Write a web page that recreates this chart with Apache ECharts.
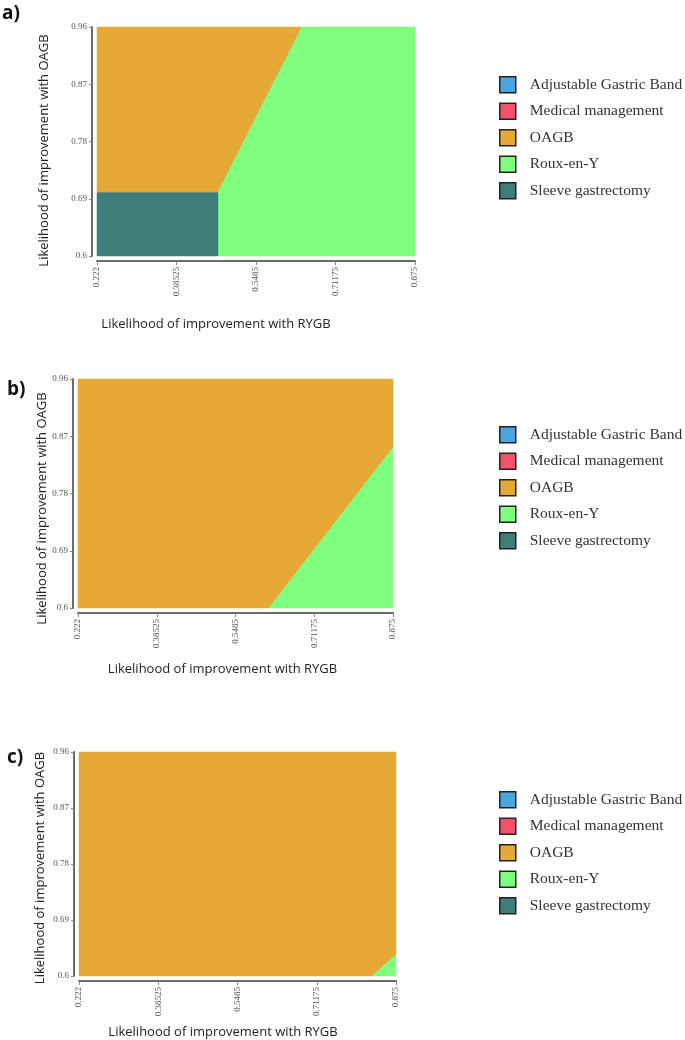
<!DOCTYPE html>
<html>
<head>
<meta charset="utf-8">
<script src="https://cdn.jsdelivr.net/npm/echarts@6/dist/echarts.min.js"></script>
<style>
  html, body { margin: 0; padding: 0; background: #fff; }
  #main { width: 685px; height: 1040px; }
</style>
</head>
<body>
<div id="main"></div>
<script>
// treatments shown in every legend
var treatments = ["Adjustable Gastric Band", "Medical management", "OAGB", "Roux-en-Y", "Sleeve gastrectomy"];
var colors = ["#4ba6e0", "#f25269", "#e6a936", "#80ff7f", "#3e7e7b"];

var xTicks = [0.222, 0.38525, 0.5485, 0.71175, 0.875];
var yTicks = [0.6, 0.69, 0.78, 0.87, 0.96];

// region boundaries (RYGB, OAGB)
var panelA_sleeve = [[0.222, 0.6], [0.4705, 0.6], [0.4705, 0.70], [0.222, 0.70]];
var panelA_roux = [[0.4705, 0.6], [0.875, 0.6], [0.875, 0.96], [0.643, 0.96], [0.4705, 0.70]];
var panelA_oagb = [[0.222, 0.70], [0.4705, 0.70], [0.643, 0.96], [0.222, 0.96]];

var panelB_oagb = [[0.222, 0.6], [0.618, 0.6], [0.875, 0.852], [0.875, 0.96], [0.222, 0.96]];
var panelB_roux = [[0.618, 0.6], [0.875, 0.6], [0.875, 0.852]];

var panelC_oagb = [[0.222, 0.6], [0.826, 0.6], [0.875, 0.634], [0.875, 0.96], [0.222, 0.96]];
var panelC_roux = [[0.826, 0.6], [0.875, 0.6], [0.875, 0.634]];

var panels = [
  { label: "a)", regions: { "OAGB": panelA_oagb, "Roux-en-Y": panelA_roux, "Sleeve gastrectomy": panelA_sleeve } },
  { label: "b)", regions: { "OAGB": panelB_oagb, "Roux-en-Y": panelB_roux } },
  { label: "c)", regions: { "OAGB": panelC_oagb, "Roux-en-Y": panelC_roux } }
];

// layout per panel
var grids = [
  { left: 97, top: 27, width: 318, height: 229 },
  { left: 78, top: 379, width: 315, height: 229 },
  { left: 79, top: 752, width: 317, height: 230 }
];
var legendTops = [76, 426, 791];
var xNameGap = [57, 50, 45];
var xNameShift = [80, 26, 29];
var yNameGap = [41, 23, 27];
var yNameShift = [18, 30, 8];
var labelTops = [4, 380, 748];
var labelLefts = [2, 7, 7];

var myChart = echarts.init(document.getElementById("main"));

function fmt(v) {
  return String(Math.round(v * 100000) / 100000);
}

var xAxes = [], yAxes = [], series = [], legends = [], graphics = [];

panels.forEach(function (p, i) {
  xAxes.push({
    type: "value", gridIndex: i, min: 0.222, max: 0.875, offset: 5,
    name: "Likelihood of improvement with RYGB",
    nameLocation: "middle", nameGap: xNameGap[i],
    nameTextStyle: { fontFamily: "Open Sans", fontSize: 13, color: "#222", padding: [0, xNameShift[i], 0, 0] },
    axisLine: { lineStyle: { color: "#6a6a6a", width: 2 } },
    axisTick: { show: true, length: 4, lineStyle: { color: "#888" }, customValues: xTicks },
    axisLabel: { rotate: 90, fontFamily: "Liberation Serif", fontSize: 9, color: "#555", margin: 6, customValues: xTicks, formatter: fmt },
    splitLine: { show: false }
  });
  yAxes.push({
    type: "value", gridIndex: i, min: 0.6, max: 0.96, offset: 5,
    name: "Likelihood of improvement with OAGB",
    nameLocation: "middle", nameGap: yNameGap[i],
    nameTextStyle: { fontFamily: "Open Sans", fontSize: 13, color: "#222", padding: [0, yNameShift[i], 0, 0] },
    axisLine: { lineStyle: { color: "#6a6a6a", width: 2 } },
    axisTick: { show: true, length: 3, lineStyle: { color: "#888" }, customValues: yTicks },
    axisLabel: { fontFamily: "Liberation Serif", fontSize: 9, color: "#555", margin: 5, customValues: yTicks, formatter: fmt },
    splitLine: { show: false }
  });

  treatments.forEach(function (t, k) {
    var verts = p.regions[t] || [];
    series.push({
      type: "custom", name: t, xAxisIndex: i, yAxisIndex: i,
      itemStyle: { color: colors[k] },
      data: verts,
      silent: true,
      renderItem: function (params, api) {
        if (params.dataIndex !== 0) return;
        var pts = verts.map(function (v) { return api.coord(v); });
        return { type: "polygon", shape: { points: pts }, style: { fill: colors[k], stroke: colors[k], lineWidth: 0.5 } };
      }
    });
  });

  legends.push({
    data: treatments, orient: "vertical", left: 499, top: legendTops[i], padding: 0,
    icon: "rect", itemWidth: 16, itemHeight: 16, itemGap: 9,
    itemStyle: { borderColor: "#222", borderWidth: 1.5 },
    textStyle: { fontFamily: "Liberation Serif", fontSize: 15.5, color: "#333", padding: [0, 0, 0, 9] },
    selectedMode: false
  });

  graphics.push({
    type: "text", left: labelLefts[i], top: labelTops[i],
    style: { text: p.label, font: "bold 19px 'Open Sans'", fill: "#111" }
  });
});

myChart.setOption({
  animation: false,
  grid: grids,
  xAxis: xAxes,
  yAxis: yAxes,
  legend: legends,
  series: series,
  graphic: graphics
});
</script>
</body>
</html>
